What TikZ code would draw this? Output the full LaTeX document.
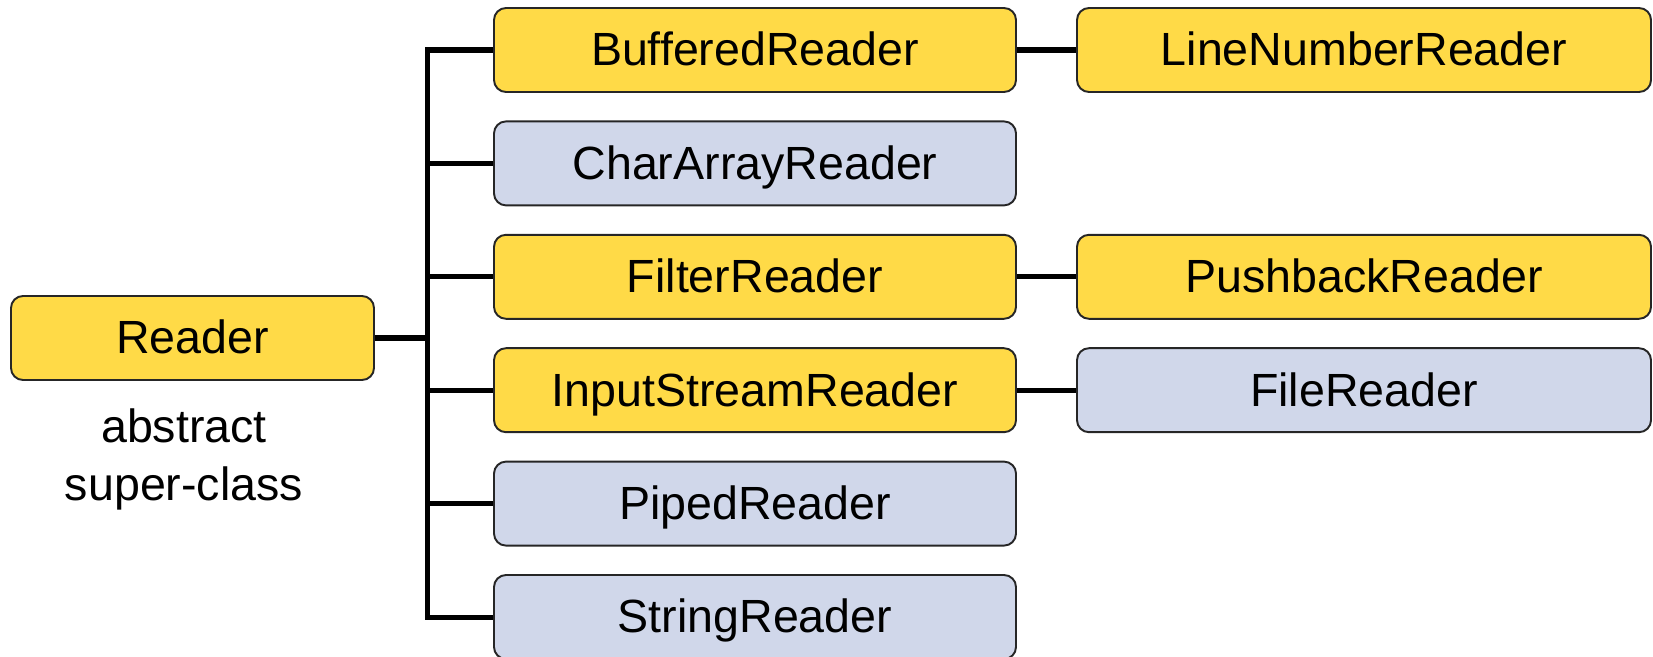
\documentclass[tikz,border=0pt]{standalone}
\usepackage{fontspec}
\setmainfont{Liberation Sans}
\definecolor{classyellow}{HTML}{FFDA47}
\definecolor{classblue}{HTML}{D0D7EA}
\tikzset{
    classbox/.style={draw=black!85, line width=1.1pt, rounded corners=0.24cm,
        minimum height=1.68cm, text height=23.8pt, text depth=5.6pt,
        font=\fontsize{26.5}{31}\selectfont},
    subclass/.style={classbox, fill=classyellow},
    leafclass/.style={classbox, fill=classblue},
    conn/.style={line width=2.85pt}
}
\begin{document}
\begin{tikzpicture}
                \useasboundingbox (0,0) rectangle (33.06,-13.14);
                % Root class
                \node[subclass, minimum width=7.26cm] (reader) at (3.85,-6.76) {Reader};
                \node[font=\fontsize{26.5}{32.5}\selectfont, align=center, anchor=base] (note)
                    at (3.68,-10.0) {abstract\\super-class};
                % First column
                \node[subclass, minimum width=10.44cm] (buffered) at (15.1,-1) {BufferedReader};
                \node[leafclass, minimum width=10.44cm] (chararray) at (15.1,-3.268) {CharArrayReader};
                \node[subclass, minimum width=10.44cm] (filter) at (15.1,-5.536) {FilterReader};
                \node[subclass, minimum width=10.44cm] (inputstream) at (15.1,-7.804) {InputStreamReader};
                \node[leafclass, minimum width=10.44cm] (piped) at (15.1,-10.072) {PipedReader};
                \node[leafclass, minimum width=10.44cm] (string) at (15.1,-12.34) {StringReader};
                % Second column
                \node[subclass, minimum width=11.48cm] (linenumber) at (27.28,-1) {LineNumberReader};
                \node[subclass, minimum width=11.48cm] (pushback) at (27.28,-5.536) {PushbackReader};
                \node[leafclass, minimum width=11.48cm] (file) at (27.28,-7.804) {FileReader};
                % Tree lines
                \coordinate (trunk) at (8.54,0);
                \draw[conn] (buffered.west) -| (trunk |- string.west) -- (string.west);
                \draw[conn] (reader.east) -- (reader.east -| trunk);
                \draw[conn] (chararray.west -| trunk) -- (chararray.west);
                \draw[conn] (filter.west -| trunk) -- (filter.west);
                \draw[conn] (inputstream.west -| trunk) -- (inputstream.west);
                \draw[conn] (piped.west -| trunk) -- (piped.west);
                \draw[conn] (buffered.east) -- (linenumber.west);
                \draw[conn] (filter.east) -- (pushback.west);
                \draw[conn] (inputstream.east) -- (file.west);
            \end{tikzpicture}
\end{document}
